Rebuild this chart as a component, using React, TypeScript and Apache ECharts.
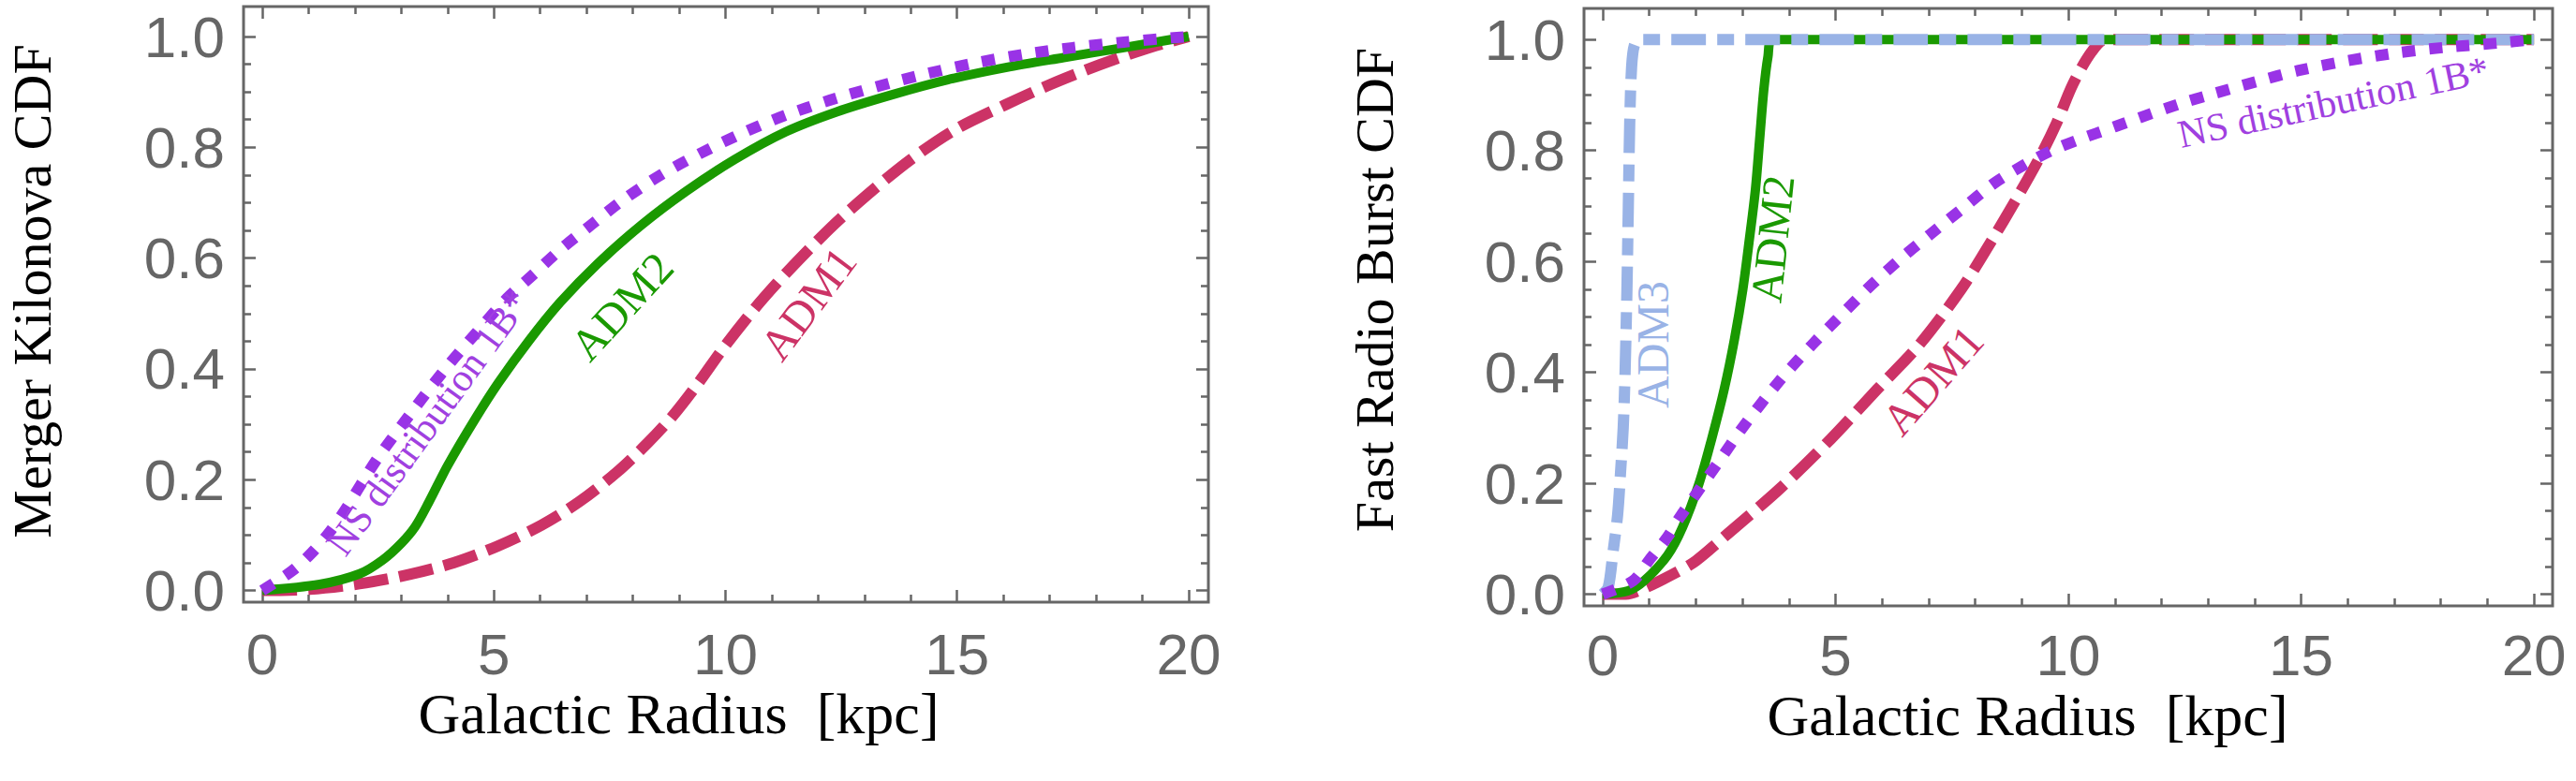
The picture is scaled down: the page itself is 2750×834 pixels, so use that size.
import React, { useEffect, useRef } from "react";
import * as echarts from "echarts";

// ---------- tick values ----------
const xMajorTicks = [0, 5, 10, 15, 20];
const xMinorTicks = [1, 2, 3, 4, 6, 7, 8, 9, 11, 12, 13, 14, 16, 17, 18, 19];
const yMajorTicks = [0, 0.2, 0.4, 0.6, 0.8, 1.0];
const yMinorTicks = [0.05, 0.1, 0.15, 0.25, 0.3, 0.35, 0.45, 0.5, 0.55, 0.65, 0.7, 0.75, 0.85, 0.9, 0.95];

// ---------- titles / labels ----------
const xTitle = "Galactic Radius  [kpc]";
const leftYTitle = "Merger Kilonova CDF";
const rightYTitle = "Fast Radio Burst CDF";
const nsName = "NS distribution 1B*";
const adm1Name = "ADM1";
const adm2Name = "ADM2";
const adm3Name = "ADM3";

// ---------- left panel: Merger Kilonova CDF ----------
const kilonovaNS: [number, number][] = [
  [0, 0], [0.64, 0.035], [1.07, 0.068], [1.45, 0.105], [1.78, 0.144], [2.12, 0.19], [2.5, 0.24],
  [3.3, 0.33], [4.0, 0.405], [4.67, 0.47], [5.28, 0.527], [5.82, 0.568], [6.43, 0.615], [7.1, 0.66],
  [7.79, 0.705], [8.6, 0.75], [9.48, 0.79], [10.43, 0.828], [11.3, 0.858], [12.25, 0.885], [13.2, 0.908],
  [14.15, 0.929], [15.37, 0.952], [16.45, 0.968], [17.5, 0.98], [18.6, 0.99], [20, 1.0],
];
const kilonovaADM2: [number, number][] = [
  [0, 0], [1.24, 0.011], [2.1, 0.03], [2.6, 0.055], [3.0, 0.085], [3.3, 0.115], [3.6, 0.16], [4.0, 0.225],
  [4.6, 0.31], [5.1, 0.375], [5.75, 0.45], [6.43, 0.52], [7.24, 0.59], [8.19, 0.66], [9.14, 0.72],
  [10.2, 0.778], [11.3, 0.828], [12.4, 0.864], [13.6, 0.895], [14.8, 0.922], [16.05, 0.944],
  [17.3, 0.962], [18.6, 0.98], [20, 1.0],
];
const kilonovaADM1: [number, number][] = [
  [0, 0], [1.02, 0.002], [2.1, 0.012], [3.18, 0.029], [4.13, 0.05], [5.08, 0.08], [6.03, 0.118],
  [6.84, 0.16], [7.65, 0.213], [8.33, 0.267], [8.87, 0.316], [9.41, 0.374], [9.95, 0.437], [10.63, 0.509],
  [11.3, 0.572], [12.25, 0.653], [13.07, 0.715], [14.0, 0.778], [14.96, 0.832], [16.05, 0.877],
  [17.0, 0.913], [18.08, 0.949], [19.0, 0.976], [20, 1.0],
];

// ---------- right panel: Fast Radio Burst CDF ----------
const frbADM3: [number, number][] = [
  [0, 0], [0.12, 0.013], [0.22, 0.075], [0.32, 0.143], [0.38, 0.216], [0.44, 0.3], [0.48, 0.4],
  [0.52, 0.55], [0.55, 0.7], [0.58, 0.85], [0.62, 0.95], [0.68, 0.99], [0.8, 1.0], [20, 1.0],
];
const frbADM2: [number, number][] = [
  [0, 0], [0.54, 0.006], [0.9, 0.025], [1.39, 0.07], [1.71, 0.12], [2.07, 0.2], [2.34, 0.28],
  [2.61, 0.37], [2.83, 0.46], [3.01, 0.55], [3.15, 0.64], [3.28, 0.73], [3.37, 0.82], [3.46, 0.91],
  [3.55, 0.97], [3.64, 1.0], [20, 1.0],
];
const frbNS: [number, number][] = [
  [0, 0], [0.65, 0.024], [1.02, 0.064], [1.39, 0.103], [1.65, 0.138], [2.0, 0.18], [2.5, 0.24],
  [3.0, 0.3], [3.8, 0.385], [4.5, 0.45], [5.2, 0.51], [5.8, 0.56], [6.47, 0.61], [7.05, 0.65],
  [7.72, 0.695], [8.39, 0.74], [9.07, 0.775], [9.64, 0.8], [10.2, 0.819], [11.0, 0.843], [11.76, 0.866],
  [12.53, 0.888], [13.1, 0.902], [14.07, 0.925], [14.93, 0.944], [16.0, 0.962], [17.05, 0.976],
  [18.1, 0.986], [19.26, 0.994], [20, 1.0],
];
const frbADM1: [number, number][] = [
  [0, 0], [0.5, 0.0], [0.9, 0.011], [1.55, 0.038], [2.0, 0.06], [2.7, 0.11], [3.8, 0.19], [4.9, 0.28],
  [5.9, 0.37], [6.8, 0.45], [7.7, 0.55], [8.3, 0.63], [8.9, 0.715], [9.4, 0.79], [9.75, 0.85],
  [10.1, 0.92], [10.5, 0.978], [10.8, 1.0], [20, 1.0],
];

// ---------- styles ----------
const GRAY = "#666666";
const PURPLE = "#9933e6";
const PURPLE_TEXT = "#a040e0";
const GREEN = "#1a9900";
const RED = "#cc3366";
const BLUE = "#99b3e6";
const SANS = "Liberation Sans";
const SERIF = "Liberation Serif";

function xAxesFor(gridIndex: number, min: number, max: number, labelMargin: number) {
  const base = {
    type: "value" as const,
    gridIndex,
    min,
    max,
    axisLine: { show: false, onZero: false },
    splitLine: { show: false },
  };
  const lbl = {
    show: true,
    customValues: xMajorTicks,
    color: GRAY,
    fontSize: 62,
    fontFamily: SANS,
    margin: labelMargin,
    formatter: (v: number) => String(v),
  };
  return [
    { ...base, position: "bottom", axisTick: { show: true, inside: true, length: 13, customValues: xMajorTicks, lineStyle: { color: GRAY, width: 2.5 } }, axisLabel: lbl },
    { ...base, position: "top", axisTick: { show: true, inside: true, length: 13, customValues: xMajorTicks, lineStyle: { color: GRAY, width: 2.5 } }, axisLabel: { show: false } },
    { ...base, position: "bottom", axisTick: { show: true, inside: true, length: 8, customValues: xMinorTicks, lineStyle: { color: GRAY, width: 2.5 } }, axisLabel: { show: false } },
    { ...base, position: "top", axisTick: { show: true, inside: true, length: 8, customValues: xMinorTicks, lineStyle: { color: GRAY, width: 2.5 } }, axisLabel: { show: false } },
  ];
}

function yAxesFor(gridIndex: number, min: number, max: number) {
  const base = {
    type: "value" as const,
    gridIndex,
    min,
    max,
    axisLine: { show: false, onZero: false },
    splitLine: { show: false },
  };
  const lbl = {
    show: true,
    customValues: yMajorTicks,
    color: GRAY,
    fontSize: 62,
    fontFamily: SANS,
    margin: 20,
    formatter: (v: number) => v.toFixed(1),
  };
  return [
    { ...base, position: "left", axisTick: { show: true, inside: true, length: 13, customValues: yMajorTicks, lineStyle: { color: GRAY, width: 2.5 } }, axisLabel: lbl },
    { ...base, position: "right", axisTick: { show: true, inside: true, length: 13, customValues: yMajorTicks, lineStyle: { color: GRAY, width: 2.5 } }, axisLabel: { show: false } },
    { ...base, position: "left", axisTick: { show: true, inside: true, length: 8, customValues: yMinorTicks, lineStyle: { color: GRAY, width: 2.5 } }, axisLabel: { show: false } },
    { ...base, position: "right", axisTick: { show: true, inside: true, length: 8, customValues: yMinorTicks, lineStyle: { color: GRAY, width: 2.5 } }, axisLabel: { show: false } },
  ];
}

function lineSeries(name: string, data: [number, number][], axis: number, color: string, width: number, type: any, z: number) {
  return {
    name,
    type: "line",
    xAxisIndex: axis,
    yAxisIndex: axis,
    data,
    showSymbol: false,
    symbol: "none",
    smooth: 0.3,
    z,
    lineStyle: { color, width, type, cap: "butt", join: "round" },
  };
}

function label(text: string, x: number, y: number, deg: number, size: number, color: string, family = SERIF) {
  return {
    type: "text",
    x,
    y,
    rotation: (deg * Math.PI) / 180,
    z: 100,
    style: {
      text,
      fill: color,
      fontSize: size,
      fontFamily: family,
      textAlign: "center",
      align: "center",
      textVerticalAlign: "middle",
      verticalAlign: "middle",
    },
  };
}

const NS_DASH = [14, 15];
const RED_DASH = [37, 12];
const BLUE_DASH = [37, 12, 18, 12];

export default function App() {
  const ref = useRef<HTMLDivElement>(null);
  useEffect(() => {
    if (!ref.current) return;
    const chart = echarts.init(ref.current, null, { renderer: "svg" });
    const option: any = {
      animation: false,
      backgroundColor: "#ffffff",
      grid: [
        { left: 260, top: 7, width: 1030, height: 636, show: true, borderColor: GRAY, borderWidth: 3, containLabel: false },
        { left: 1691, top: 9, width: 1034, height: 638, show: true, borderColor: GRAY, borderWidth: 3, containLabel: false },
      ],
      xAxis: [...xAxesFor(0, -0.404, 20.425, 24), ...xAxesFor(1, -0.402, 20.4, 21)],
      yAxis: [...yAxesFor(0, -0.0211, 1.0541), ...yAxesFor(1, -0.0211, 1.0562)],
      series: [
        lineSeries("ADM1", kilonovaADM1, 0, RED, 12, RED_DASH, 2),
        lineSeries("ADM2", kilonovaADM2, 0, GREEN, 10, "solid", 3),
        lineSeries("NS distribution 1B*", kilonovaNS, 0, PURPLE, 12, NS_DASH, 5),
        lineSeries("ADM1", frbADM1, 4, RED, 12, RED_DASH, 2),
        lineSeries("ADM2", frbADM2, 4, GREEN, 10, "solid", 3),
        lineSeries("ADM3", frbADM3, 4, BLUE, 12, BLUE_DASH, 4),
        lineSeries("NS distribution 1B*", frbNS, 4, PURPLE, 12, NS_DASH, 5),
      ],
      graphic: [
        label(xTitle, 724.5, 762, 0, 62, "#000000"),
        label(xTitle, 2164.5, 764, 0, 62, "#000000"),
        label(leftYTitle, 34.5, 311, 90, 58, "#000000"),
        label(rightYTitle, 1467.5, 309.5, 90, 58, "#000000"),
        label(nsName, 457, 451, 54, 42, PURPLE_TEXT),
        label(adm2Name, 663.5, 327, 47.5, 48, GREEN),
        label(adm1Name, 862.5, 324, 53, 48, RED),
        label(adm3Name, 1764, 368, 90, 48, BLUE),
        label(adm2Name, 1892, 255, 84, 48, GREEN),
        label(adm1Name, 2063, 406, 48.7, 48, RED),
        label(nsName, 2491, 109, 12, 42, PURPLE_TEXT),
      ],
    };
    chart.setOption(option);
    return () => chart.dispose();
  }, []);
  return (
    <div
      ref={ref}
      style={{ position: "fixed", left: 0, top: 0, width: 2750, height: 834, background: "#ffffff" }}
    />
  );
}
